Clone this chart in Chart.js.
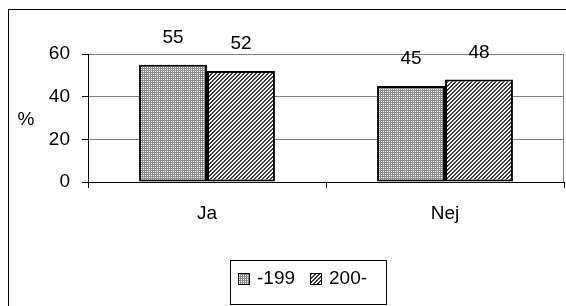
<!DOCTYPE html>
<html>
<head>
<meta charset="utf-8">
<script src="https://cdn.jsdelivr.net/npm/chart.js@4"></script>
<style>
  html, body { margin: 0; padding: 0; background: #fff; }
  #wrap { width: 566px; height: 306px; }
</style>
</head>
<body>
<div id="wrap"><canvas id="chart" width="566" height="306"></canvas></div>
<script>
const categories = ['Ja', 'Nej'];
const seriesNames = ['-199', '200-'];
const seriesOld = [55, 45];
const seriesNew = [52, 48];
const yTicks = [0, 20, 40, 60];

const FONT = 'Liberation Sans, Arial, sans-serif';
const FS = 19;

// small tile patterns like the old office fill styles
function makePattern(kind) {
  const c = document.createElement('canvas');
  const size = kind === 'dots' ? 2 : 4;
  c.width = size; c.height = size;
  const g = c.getContext('2d');
  for (let x = 0; x < size; x++) {
    for (let y = 0; y < size; y++) {
      let col;
      if (kind === 'dots') col = (x === 1 && y === 1) ? '#ffffff' : '#8c8c8c';
      else col = ((x + y) % 4 < 2) ? '#3a3a3a' : '#ffffff';
      g.fillStyle = col;
      g.fillRect(x, y, 1, 1);
    }
  }
  return g.createPattern(c, 'repeat');
}

const fills = [makePattern('dots'), makePattern('hatch')];

const framePlugin = {
  id: 'frame',
  beforeDraw(chart) {
    const ctx = chart.ctx;
    const a = chart.chartArea;
    ctx.save();
    ctx.fillStyle = '#fff';
    ctx.fillRect(0, 0, chart.width, chart.height);
    ctx.strokeStyle = '#000';
    ctx.lineWidth = 1;
    ctx.strokeRect(8.5, 9.5, 600, 320);
    // plot area border
    ctx.strokeStyle = '#808080';
    ctx.strokeRect(a.left + 0.5, a.top + 0.5, a.right - a.left - 1, a.bottom - a.top);
    // axis title "%"
    ctx.fillStyle = '#000';
    ctx.font = FS + 'px ' + FONT;
    ctx.textAlign = 'center';
    ctx.textBaseline = 'middle';
    ctx.fillText('%', 26, 120);
    ctx.restore();
  },
  afterDatasetsDraw(chart) {
    const ctx = chart.ctx;
    ctx.save();
    ctx.fillStyle = '#000';
    ctx.font = FS + 'px ' + FONT;
    ctx.textAlign = 'center';
    ctx.textBaseline = 'middle';
    chart.data.datasets.forEach((ds, i) => {
      chart.getDatasetMeta(i).data.forEach((el, j) => {
        ctx.fillText(String(ds.data[j]), el.x, el.y - 27);
      });
    });
    ctx.restore();
  },
  afterDraw(chart) {
    // boxed legend
    const ctx = chart.ctx;
    ctx.save();
    ctx.strokeStyle = '#000';
    ctx.lineWidth = 1;
    ctx.strokeRect(230.5, 260.5, 156, 44);
    ctx.font = FS + 'px ' + FONT;
    ctx.textBaseline = 'middle';
    ctx.textAlign = 'left';
    const xs = [238, 310];
    seriesNames.forEach((name, i) => {
      ctx.fillStyle = fills[i];
      ctx.fillRect(xs[i], 273, 12, 12);
      ctx.strokeStyle = '#000';
      ctx.strokeRect(xs[i] + 0.5, 273.5, 11, 11);
      ctx.fillStyle = '#000';
      ctx.fillText(name, xs[i] + 19, 279);
    });
    ctx.restore();
  }
};

new Chart(document.getElementById('chart'), {
  type: 'bar',
  data: {
    labels: categories,
    datasets: [
      { label: seriesNames[0], data: seriesOld, backgroundColor: fills[0], borderColor: '#000', borderWidth: 2, borderSkipped: false },
      { label: seriesNames[1], data: seriesNew, backgroundColor: fills[1], borderColor: '#000', borderWidth: 2, borderSkipped: false }
    ]
  },
  options: {
    responsive: false,
    animation: false,
    layout: { padding: { left: 0, top: 54, right: 2, bottom: 0 } },
    plugins: { legend: { display: false }, tooltip: { enabled: false } },
    datasets: { bar: { categoryPercentage: 0.571, barPercentage: 1 } },
    scales: {
      x: {
        offset: true,
        grid: { display: true, offset: true, drawOnChartArea: false, tickLength: 6, color: '#000' },
        border: { color: '#000', width: 1 },
        ticks: { color: '#000', font: { family: FONT, size: FS }, padding: 14 },
        afterFit(s) { s.height = 124; }
      },
      y: {
        min: 0,
        max: 60,
        afterBuildTicks(s) { s.ticks = yTicks.map(v => ({ value: v })); },
        grid: { color: '#808080', tickColor: '#000', tickLength: 6 },
        border: { color: '#000', width: 1 },
        ticks: { color: '#000', font: { family: FONT, size: FS }, padding: 12 },
        afterFit(s) { s.width = 88; }
      }
    }
  },
  plugins: [framePlugin]
});
</script>
</body>
</html>
